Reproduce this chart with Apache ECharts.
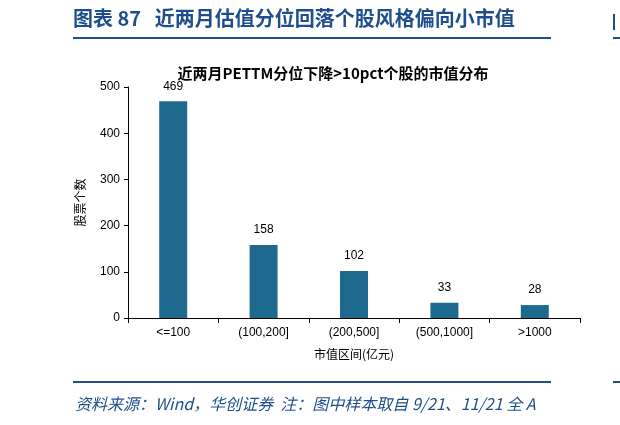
<!DOCTYPE html>
<html><head><meta charset="utf-8">
<script src="https://cdn.jsdelivr.net/npm/echarts@6/dist/echarts.min.js"></script>
<style>body{margin:0;background:#fff}#c{width:620px;height:425px}</style>
</head><body><div id="c"></div>
<script>
const categories = ["<=100", "(100,200]", "(200,500]", "(500,1000]", ">1000"];
const counts = [469, 158, 102, 33, 28];
const yTicks = [0, 100, 200, 300, 400, 500];

const navy = "#1F4E8C";
const chart = echarts.init(document.getElementById("c"));
chart.setOption({
  animation: false,
  title: {
    text: "近两月PETTM分位下降>10pct个股的市值分布",
    left: 328, top: 61, textAlign: "center",
    textStyle: { fontSize: 15, fontWeight: "bold", color: "#000", fontFamily: "Noto Sans CJK SC" }
  },
  grid: { left: 128, right: 40, top: 87, bottom: 107 },
  xAxis: {
    type: "category", data: categories,
    name: "市值区间(亿元)", nameLocation: "middle", nameGap: 30,
    nameTextStyle: { fontSize: 12, color: "#000", fontFamily: "Noto Sans CJK SC" },
    axisLine: { lineStyle: { color: "#000" } },
    axisTick: { show: true, inside: false, length: 5, lineStyle: { color: "#000" } },
    axisLabel: { fontSize: 12, color: "#000", margin: 9, fontFamily: "Liberation Sans" }
  },
  yAxis: {
    type: "value", min: yTicks[0], max: yTicks[yTicks.length - 1], interval: 100,
    name: "股票个数", nameLocation: "middle", nameGap: 42, nameRotate: 90,
    nameTextStyle: { fontSize: 12, color: "#000", fontFamily: "Noto Sans CJK SC" },
    axisLine: { show: true, lineStyle: { color: "#000" } },
    axisTick: { show: true, length: 4, lineStyle: { color: "#000" } },
    axisLabel: { fontSize: 12, color: "#000", fontFamily: "Liberation Sans", margin: 8 },
    splitLine: { show: false }
  },
  series: [{
    type: "bar", data: counts, barWidth: 28,
    itemStyle: { color: "#1E6A8F" },
    label: { show: true, position: "top", distance: 9, fontSize: 12, color: "#000", fontFamily: "Liberation Sans" }
  }],
  graphic: [
    { type: "text", left: 73, top: 8, style: { text: "图表 87   近两月估值分位回落个股风格偏向小市值", fill: navy, font: "bold 20px 'Noto Sans CJK SC'" } },
    { type: "rect", shape: { x: 73, y: 37, width: 478, height: 2 }, style: { fill: navy } },
    { type: "rect", shape: { x: 613, y: 37, width: 7, height: 2 }, style: { fill: navy } },
    { type: "rect", shape: { x: 613, y: 14, width: 2, height: 16 }, style: { fill: navy } },
    { type: "rect", shape: { x: 73, y: 381, width: 478, height: 2 }, style: { fill: navy } },
    { type: "rect", shape: { x: 613, y: 381, width: 7, height: 2 }, style: { fill: navy } },
    { type: "text", left: 75, top: 396, style: { text: "资料来源：Wind，华创证券  注：图中样本取自 9/21、11/21 全 A", fill: navy, font: "italic 16px 'Noto Sans CJK SC'" } }
  ]
});
</script></body></html>
